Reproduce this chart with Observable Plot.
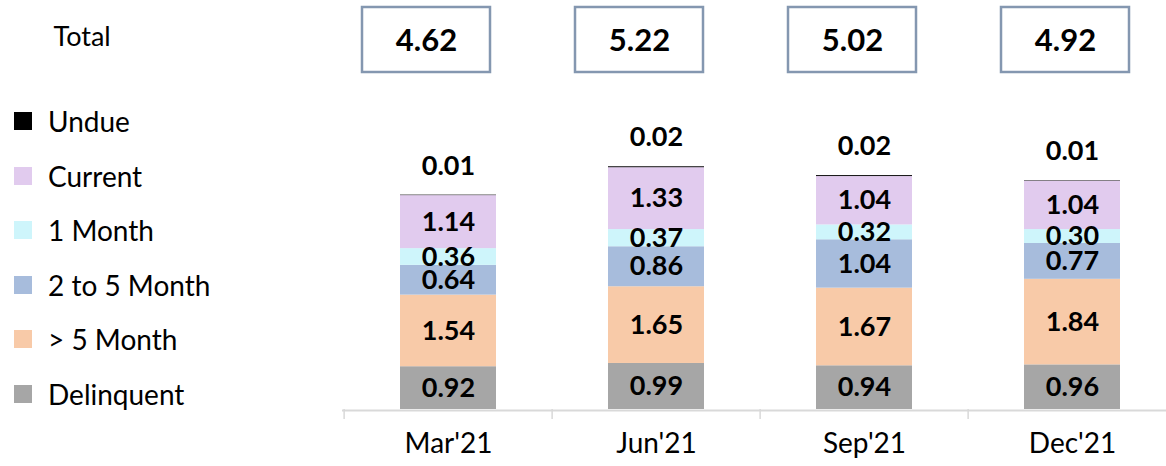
<!DOCTYPE html>
<html><head><meta charset="utf-8">
<script src="https://cdn.jsdelivr.net/npm/d3@7"></script>
<script src="https://cdn.jsdelivr.net/npm/@observablehq/plot@0.6"></script>
<style>
body{margin:0;background:#fff;font-family:Lato,sans-serif;}
#wrap{position:relative;width:1166px;height:466px;overflow:hidden;background:#fff;}
#wrap > svg, #wrap > div{position:absolute;left:0;top:0;}
.lg-row{position:absolute;left:14px;height:30px;display:flex;align-items:center;font-size:28px;color:#000;white-space:nowrap;}
.lg-sw{width:18px;height:18px;margin-right:16px;flex:none;}
</style></head><body><div id="wrap"></div>
<script>
// ---- data ----
const periods = ["Mar'21", "Jun'21", "Sep'21", "Dec'21"];
const totals = [4.62, 5.22, 5.02, 4.92];
const totalLabel = "Total";
const seriesNames = ["Delinquent", "> 5 Month", "2 to 5 Month", "1 Month", "Current", "Undue"];
const seriesColors = ["#a6a6a6", "#f8caa8", "#a7bcdc", "#cef5fb", "#e1cbee", "#000000"];
const delinquent = [0.92, 0.99, 0.94, 0.96];
const over5Month = [1.54, 1.65, 1.67, 1.84];
const month2to5 = [0.64, 0.86, 1.04, 0.77];
const month1 = [0.36, 0.37, 0.32, 0.30];
const current = [1.14, 1.33, 1.04, 1.04];
const undue = [0.01, 0.02, 0.02, 0.01];

const seriesValues = [delinquent, over5Month, month2to5, month1, current, undue];
const rows = seriesNames.flatMap((s, si) => periods.map((p, pi) => ({period: p, series: s, value: seriesValues[si][pi]})));
const totalRows = periods.map((p, i) => ({period: p, total: totals[i]}));
const fmt = d3.format(".2f");

const wrap = document.getElementById("wrap");

// x band geometry for the main chart
const xRange = [342, 1177];
const pIn = 0.54, pOut = 0.27;
const step = (xRange[1] - xRange[0]) / (periods.length - pIn + 2 * pOut);

const mainChart = Plot.plot({
  width: 1166, height: 466,
  marginLeft: 342, marginRight: 0, marginTop: 0, marginBottom: 57,
  style: {fontFamily: "Lato, sans-serif", background: "transparent", overflow: "visible"},
  x: {domain: periods, range: xRange, paddingInner: pIn, paddingOuter: pOut, label: null},
  y: {domain: [0, 8.796], axis: null},
  color: {domain: seriesNames, range: seriesColors},
  marks: [
    Plot.barY(rows, Plot.stackY({x: "period", y: "value", z: "series", fill: "series", order: seriesNames})),
    Plot.text(rows, Plot.stackY({
      x: "period", y: "value", z: "series", order: seriesNames,
      text: d => d.series === "Undue" ? null : fmt(d.value),
      fontSize: 27, fontWeight: "bold", fill: "#000"
    })),
    Plot.text(rows, Plot.stackY2({
      x: "period", y: "value", z: "series", order: seriesNames,
      text: d => d.series === "Undue" ? fmt(d.value) : null,
      fontSize: 27, fontWeight: "bold", fill: "#000", dy: -29
    })),
    Plot.ruleY([0], {stroke: "#d9d9d9", strokeWidth: 2, dy: 1}),
    Plot.axisX({tickSize: 10, tickFormat: () => "", label: null, dx: -step / 2, stroke: "#d9d9d9", strokeWidth: 1.5}),
    Plot.text(periods, {x: d => d, frameAnchor: "bottom", dy: 43, fontSize: 28, fill: "#000"})
  ]
});
wrap.appendChild(mainChart);

const totalsChart = Plot.plot({
  width: 1166, height: 80, margin: 0,
  style: {fontFamily: "Lato, sans-serif", background: "transparent", overflow: "visible"},
  x: {domain: periods, range: [318, 1172], paddingInner: 0.4, paddingOuter: 0.2, axis: null},
  marks: [
    Plot.cell(totalRows, {x: "period", fill: "white", stroke: "#8497b0", strokeWidth: 2.5, insetTop: 7, insetBottom: 8}),
    Plot.text(totalRows, {x: "period", text: d => fmt(d.total), fontSize: 31, fontWeight: "bold", fill: "#000", frameAnchor: "middle", dy: 1}),
    Plot.text([totalLabel], {text: d => d, frameAnchor: "left", dx: 53, dy: -3, textAnchor: "start", fontSize: 27, fill: "#000"})
  ]
});
wrap.appendChild(totalsChart);

// legend (top to bottom: reverse of stacking order)
const legend = document.createElement("div");
legend.style.width = "340px";
legend.style.height = "466px";
seriesNames.slice().reverse().forEach((s, i) => {
  const idx = seriesNames.indexOf(s);
  const row = document.createElement("div");
  row.className = "lg-row";
  row.style.top = (121 + i * 54.5 - 15) + "px";
  const sw = document.createElement("div");
  sw.className = "lg-sw";
  sw.style.background = seriesColors[idx];
  const tx = document.createElement("span");
  tx.textContent = s;
  row.appendChild(sw);
  row.appendChild(tx);
  legend.appendChild(row);
});
wrap.appendChild(legend);
</script>
</body></html>
